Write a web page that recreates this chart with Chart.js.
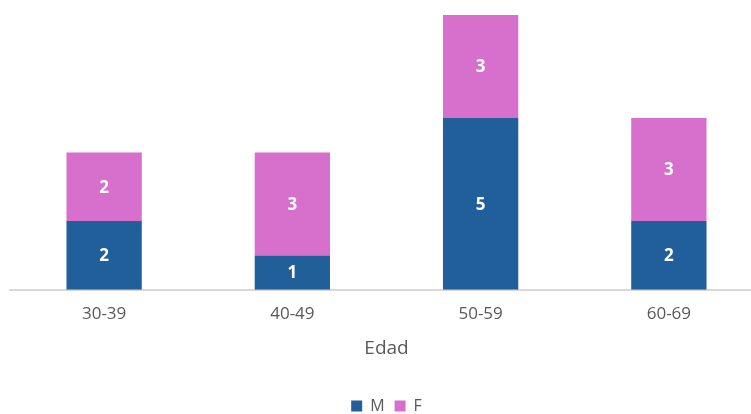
<!DOCTYPE html>
<html>
<head>
<meta charset="utf-8">
<script src="https://cdn.jsdelivr.net/npm/chart.js@4/dist/chart.umd.min.js"></script>
<style>
  html, body { margin: 0; padding: 0; background: #fff; overflow: hidden; }
  #wrap { width: 763px; height: 414px; }
</style>
</head>
<body>
<div id="wrap"><canvas id="edad-chart"></canvas></div>
<script>
// Chart data
const categories = ["30-39", "40-49", "50-59", "60-69"];
const valuesM = [2, 1, 5, 2];
const valuesF = [2, 3, 3, 3];

// white value labels in the middle of each bar segment
const barLabels = {
  id: "barLabels",
  afterDatasetsDraw(chart) {
    const ctx = chart.ctx;
    ctx.save();
    ctx.fillStyle = "#ffffff";
    ctx.font = "bold 17px 'Open Sans', sans-serif";
    ctx.textAlign = "center";
    ctx.textBaseline = "middle";
    chart.data.datasets.forEach((ds, i) => {
      chart.getDatasetMeta(i).data.forEach((bar, j) => {
        const mid = (bar.y + bar.base) / 2;
        ctx.fillText(ds.data[j], bar.x, mid + 1);
      });
    });
    ctx.restore();
  },
};

const chart = document.getElementById("edad-chart");

new Chart(chart, {
  type: "bar",
  data: {
    labels: categories,
    datasets: [
      {
        label: "M",
        data: valuesM,
        backgroundColor: "#215F9A",
      },
      {
        label: "F",
        data: valuesF,
        backgroundColor: "#D76FCC",
      },
    ],
  },
  options: {
    responsive: true,
    maintainAspectRatio: false,
    animation: false,
    layout: {
      padding: { left: 10, right: 0, top: 15, bottom: -10 },
    },
    datasets: {
      bar: { barPercentage: 0.4, categoryPercentage: 1 },
    },
    scales: {
      x: {
        stacked: true,
        grid: { display: false },
        border: { color: "#D9D9D9", width: 2 },
        ticks: {
          color: "#595959",
          font: { family: "'Open Sans', sans-serif", size: 17 },
          padding: 6,
        },
        title: {
          display: true,
          text: "Edad",
          color: "#595959",
          font: { family: "'Open Sans', sans-serif", size: 19 },
          padding: { top: 7, bottom: 28 },
        },
      },
      y: {
        stacked: true,
        display: false,
        min: 0,
        max: 8,
      },
    },
    plugins: {
      legend: {
        position: "bottom",
        labels: {
          boxWidth: 11,
          boxHeight: 11,
          color: "#595959",
          font: { family: "'Open Sans', sans-serif", size: 16 },
          padding: 10,
        },
      },
      tooltip: { enabled: false },
    },
  },
  plugins: [barLabels],
});
</script>
</body>
</html>
